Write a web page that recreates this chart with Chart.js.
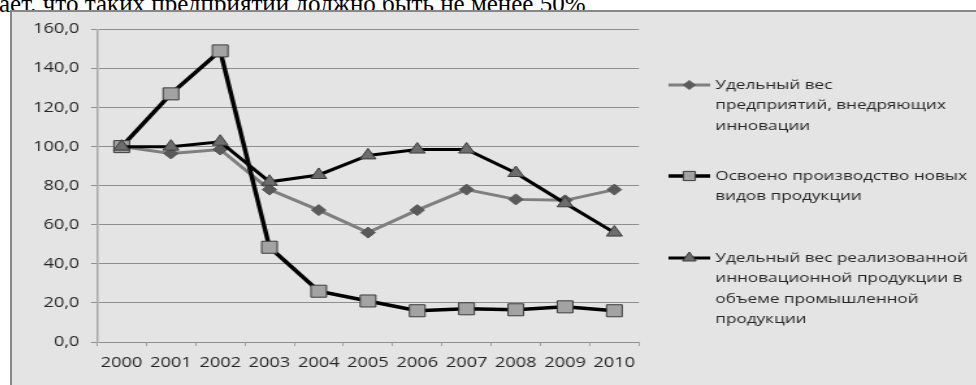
<!DOCTYPE html>
<html lang="ru">
<head>
<meta charset="utf-8">
<title>Инновационная активность предприятий, 2000–2010</title>
<script src="https://cdn.jsdelivr.net/npm/chart.js@4/dist/chart.umd.min.js"></script>
<style>
  html, body { margin: 0; padding: 0; background: #fff; }
  body { width: 976px; height: 385px; overflow: hidden; position: relative; }
  .lead {
    position: absolute; left: -1px; top: -8px; margin: 0;
    font-family: "Liberation Serif", "Times New Roman", serif;
    font-size: 25px; line-height: 24px; color: #000; white-space: nowrap;
  }
  .frame {
    position: absolute; left: 10px; top: 10px; width: 980px; height: 390px;
    box-sizing: border-box; background: #e4e4e4;
    border-left: 2px solid #878787; border-top: 2px solid #878787;
  }
  #chart {
    position: absolute; left: 0; top: 0;
    transform: scaleX(1.3); transform-origin: 0 0;
  }
</style>
</head>
<body>
<p class="lead">ает, что таких предприятий должно быть не менее 50%</p>
<div class="frame"><canvas id="chart" width="743" height="373"></canvas></div>
<script>
// Годы наблюдения
const years = ['2000', '2001', '2002', '2003', '2004', '2005', '2006', '2007', '2008', '2009', '2010'];

// Удельный вес предприятий, внедряющих инновации (2000 = 100)
const shareInnovating = [100, 96.5, 98.5, 78, 67.5, 56, 67.5, 78, 73, 72.5, 78];

// Освоено производство новых видов продукции (2000 = 100)
const newProducts = [100, 127, 149, 48.5, 26, 21, 16, 17, 16.5, 18, 16];

// Удельный вес реализованной инновационной продукции в объеме промышленной продукции
const innovativeOutput = [100, 100, 102.5, 82, 85.5, 95.5, 98.5, 98.5, 86.5, 71, 56];

// Подписи легенды по строкам
const labelShareInnovating = ['Удельный вес', 'предприятий, внедряющих', 'инновации'];
const labelNewProducts = ['Освоено производство новых', 'видов продукции'];
const labelInnovativeOutput = ['Удельный вес реализованной', 'инновационной продукции в', 'объеме промышленной', 'продукции'];

// Шкала значений
const yMin = 0, yMax = 160, yStep = 20;

const FONT = '"Open Sans", "DejaVu Sans", sans-serif';
const TEXT = '#262626';

// Легенда справа от области построения, с многострочными подписями
const sideLegend = {
  id: 'sideLegend',
  afterDraw(chart) {
    const ctx = chart.ctx;
    const x0 = 505, x1 = 537, tx = 541, lh = 20.5;
    const tops = [73, 164, 246];
    ctx.save();
    chart.data.datasets.forEach((ds, i) => {
      const y = tops[i];
      ctx.strokeStyle = ds.borderColor;
      ctx.lineWidth = ds.borderWidth;
      ctx.beginPath();
      ctx.moveTo(x0, y);
      ctx.lineTo(x1, y);
      ctx.stroke();
      ctx.fillStyle = ds.pointBackgroundColor;
      ctx.strokeStyle = ds.pointBorderColor;
      ctx.lineWidth = ds.pointBorderWidth;
      Chart.helpers.drawPoint(ctx, {
        pointStyle: ds.pointStyle,
        rotation: 0,
        radius: ds.legendRadius,
        borderWidth: ds.pointBorderWidth
      }, (x0 + x1) / 2, y);
      ctx.fillStyle = TEXT;
      ctx.font = '13.2px ' + FONT;
      ctx.textBaseline = 'middle';
      ctx.textAlign = 'left';
      ds.legendLines.forEach((line, k) => ctx.fillText(line, tx, y + k * lh));
    });
    ctx.restore();
  }
};

new Chart(document.getElementById('chart'), {
  type: 'line',
  data: {
    labels: years,
    datasets: [
      {
        label: labelShareInnovating.join(' '),
        legendLines: labelShareInnovating,
        legendRadius: 4.5,
        data: shareInnovating,
        borderColor: '#7f7f7f',
        borderWidth: 3,
        pointStyle: 'rectRot',
        pointRadius: 5.5,
        pointHoverRadius: 5.5,
        pointBackgroundColor: '#5a5a5a',
        pointBorderColor: '#555555',
        pointBorderWidth: 1,
        order: 3
      },
      {
        label: labelNewProducts.join(' '),
        legendLines: labelNewProducts,
        legendRadius: 6.5,
        data: newProducts,
        borderColor: '#000000',
        borderWidth: 3.5,
        pointStyle: 'rect',
        pointRadius: 8.5,
        pointHoverRadius: 8.5,
        pointBackgroundColor: '#a3a3a3',
        pointBorderColor: '#3c3c3c',
        pointBorderWidth: 1,
        order: 2
      },
      {
        label: labelInnovativeOutput.join(' '),
        legendLines: labelInnovativeOutput,
        legendRadius: 6,
        data: innovativeOutput,
        borderColor: '#000000',
        borderWidth: 3,
        pointStyle: 'triangle',
        pointRadius: 7,
        pointHoverRadius: 7,
        pointBackgroundColor: '#6d6d6d',
        pointBorderColor: '#3c3c3c',
        pointBorderWidth: 1,
        order: 1
      }
    ]
  },
  options: {
    responsive: false,
    animation: false,
    devicePixelRatio: 1,
    tension: 0,
    layout: { padding: { top: 15.5, right: 260.7, bottom: 0, left: 0 } },
    plugins: { legend: { display: false }, tooltip: { enabled: false } },
    scales: {
      x: {
        offset: true,
        grid: { offset: true, drawOnChartArea: false, drawTicks: true, tickLength: 4, color: '#a0a0a0', lineWidth: 1 },
        border: { display: false },
        ticks: { color: TEXT, font: { family: FONT, size: 14 }, padding: 9, maxRotation: 0, autoSkip: false },
        afterFit(scale) { scale.height = 43; }
      },
      y: {
        min: yMin,
        max: yMax,
        grid: { color: '#8e8e8e', lineWidth: 1, tickLength: 4.6, drawTicks: true },
        border: { color: '#a8a8a8', width: 1.5 },
        ticks: {
          stepSize: yStep,
          color: TEXT,
          font: { family: FONT, size: 14 },
          padding: 9,
          callback: v => v.toFixed(1).replace('.', ',')
        },
        afterFit(scale) { scale.width = 65.4; }
      }
    }
  },
  plugins: [sideLegend]
});
</script>
</body>
</html>
